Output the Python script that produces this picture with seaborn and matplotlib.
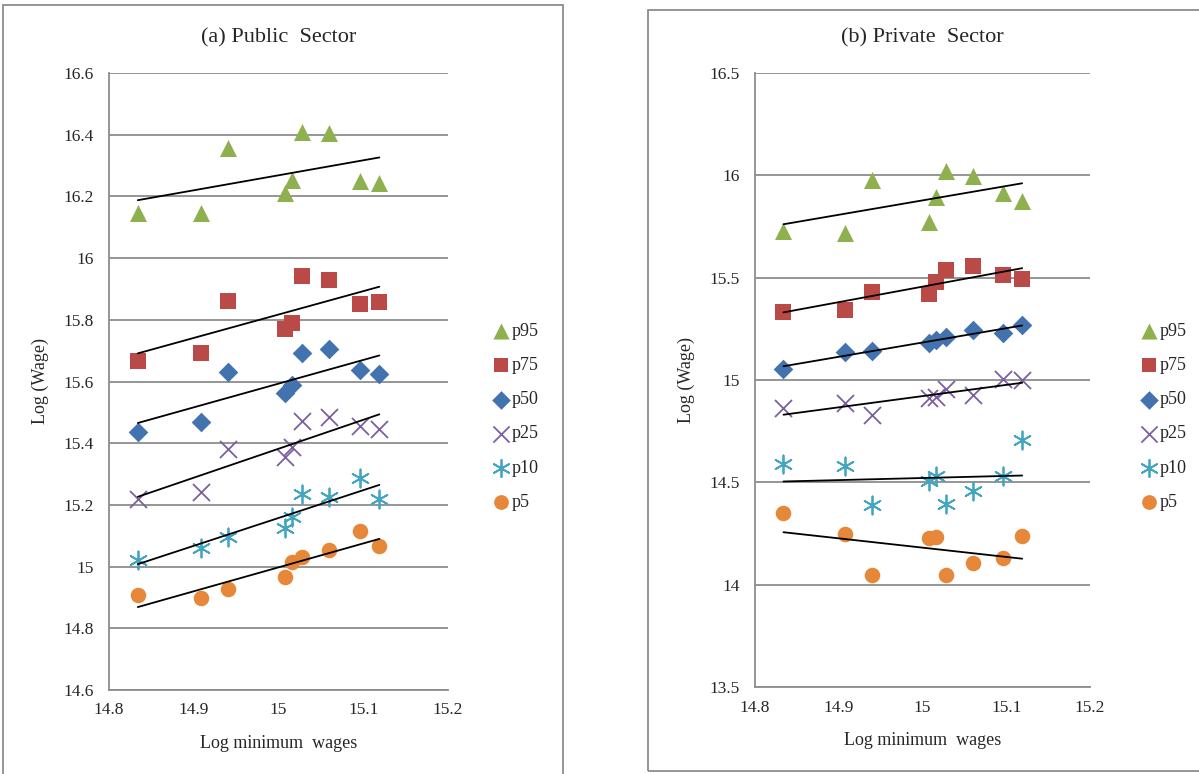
import matplotlib
matplotlib.use("Agg")
import matplotlib.pyplot as plt
import pandas as pd
import seaborn as sns
from matplotlib.patches import Rectangle

# log minimum wage (same for both sectors)
min_wage = [14.834, 14.908, 14.940, 15.008, 15.016, 15.028, 15.060, 15.096, 15.119]

percentiles = ["p95", "p75", "p50", "p25", "p10", "p5"]

public_p95 = [16.146, 16.146, 16.357, 16.211, 16.253, 16.409, 16.405, 16.250, 16.243]
public_p75 = [15.666, 15.692, 15.862, 15.769, 15.791, 15.943, 15.929, 15.851, 15.857]
public_p50 = [15.437, 15.468, 15.632, 15.562, 15.589, 15.691, 15.705, 15.637, 15.623]
public_p25 = [15.218, 15.243, 15.380, 15.356, 15.389, 15.472, 15.486, 15.456, 15.446]
public_p10 = [15.021, 15.059, 15.097, 15.124, 15.160, 15.234, 15.225, 15.288, 15.218]
public_p5 = [14.908, 14.897, 14.927, 14.967, 15.016, 15.032, 15.054, 15.116, 15.068]

private_p95 = [15.729, 15.717, 15.979, 15.774, 15.894, 16.020, 15.999, 15.916, 15.876]
private_p75 = [15.334, 15.342, 15.428, 15.420, 15.481, 15.539, 15.558, 15.515, 15.495]
private_p50 = [15.054, 15.136, 15.141, 15.180, 15.193, 15.209, 15.246, 15.229, 15.267]
private_p25 = [14.861, 14.890, 14.829, 14.911, 14.918, 14.956, 14.926, 15.005, 15.001]
private_p10 = [14.590, 14.582, 14.387, 14.508, 14.533, 14.395, 14.456, 14.533, 14.707]
private_p5 = [14.349, 14.246, 14.046, 14.227, 14.231, 14.049, 14.107, 14.130, 14.239]

public_ticks = [14.6, 14.8, 15, 15.2, 15.4, 15.6, 15.8, 16, 16.2, 16.4, 16.6]
private_ticks = [13.5, 14, 14.5, 15, 15.5, 16, 16.5]
x_ticks = [14.8, 14.9, 15, 15.1, 15.2]

colors = {"p95": "#8EB04F", "p75": "#BA4A47", "p50": "#4373AE",
          "p25": "#7C5F9F", "p10": "#43A5C0", "p5": "#E7873A"}
markers = {"p95": "^", "p75": "s", "p50": "D", "p25": "x", "p10": (6, 2, 0), "p5": "o"}
sizes = {"p95": 150, "p75": 120, "p50": 100, "p25": 150, "p10": 170, "p5": 125}


def long_frame(series):
    rows = []
    for name, vals in zip(percentiles, series):
        for x, y in zip(min_wage, vals):
            rows.append({"minw": x, "wage": y, "pct": name})
    return pd.DataFrame(rows)


public_df = long_frame([public_p95, public_p75, public_p50, public_p25, public_p10, public_p5])
private_df = long_frame([private_p95, private_p75, private_p50, private_p25, private_p10, private_p5])

sns.set_theme(style="white")
plt.rcParams["font.family"] = ["Liberation Serif", "DejaVu Serif"]
grey = "#8C8C8C"

W, H = 1199, 774
fig = plt.figure(figsize=(W / 100, H / 100), dpi=100)


def px_axes(x0, y0, x1, y1):
    return fig.add_axes([x0 / W, 1 - y1 / H, (x1 - x0) / W, (y1 - y0) / H])


def draw_panel(ax, df, title, yticks, legend_xy):
    for name in percentiles:
        sub = df[df["pct"] == name]
        line_art = name in ("p25", "p10")
        kw = dict(linewidth=1.3) if line_art else dict(linewidth=0)
        sns.scatterplot(data=sub, x="minw", y="wage", ax=ax, color=colors[name],
                        marker=markers[name], s=sizes[name], label=name, zorder=3, **kw)
    for name in percentiles:
        sub = df[df["pct"] == name]
        sns.regplot(data=sub, x="minw", y="wage", ax=ax, scatter=False, ci=None,
                    truncate=True, color="black", line_kws=dict(linewidth=1.3, zorder=4))
    ax.set_xlim(14.8, 15.2)
    ax.set_ylim(yticks[0], yticks[-1])
    ax.set_xticks(x_ticks)
    ax.set_xticklabels(["14.8", "14.9", "15", "15.1", "15.2"])
    ax.set_yticks(yticks)
    ax.set_yticklabels([f"{t:g}" for t in yticks])
    ax.yaxis.grid(True, color=grey, linewidth=1.3)
    ax.xaxis.grid(False)
    for side in ("top", "right"):
        ax.spines[side].set_visible(False)
    for side in ("left", "bottom"):
        ax.spines[side].set_color(grey)
        ax.spines[side].set_linewidth(1.3)
    ax.tick_params(axis="y", length=5, width=1.3, color=grey, direction="out",
                   pad=6, labelsize=12.5)
    ax.tick_params(axis="x", length=0, pad=9, labelsize=12.5)
    ax.set_title(title, fontsize=16, pad=22)
    ax.set_xlabel("Log minimum  wages", fontsize=13, labelpad=12)
    ax.set_ylabel("Log (Wage)", fontsize=13, labelpad=10)
    ax.legend_.remove()
    handles, labels = ax.get_legend_handles_labels()
    fig.legend(handles[:6], labels[:6], loc="upper left",
               bbox_to_anchor=(legend_xy[0] / W, 1 - legend_xy[1] / H),
               frameon=False, fontsize=13, handletextpad=0.0, handlelength=1.2,
               labelspacing=0.95, borderpad=0, markerscale=0.95)


ax1 = px_axes(109, 73, 448, 690)
ax2 = px_axes(755, 73, 1090, 687)
draw_panel(ax1, public_df, "(a) Public  Sector", public_ticks, (481, 314))
draw_panel(ax2, private_df, "(b) Private  Sector", private_ticks, (1129, 314))

# chart area frames
fig.patches.append(Rectangle((3 / W, -0.02), 560 / W, 1.02 - 5 / H,
                             transform=fig.transFigure, fill=False,
                             edgecolor=grey, linewidth=1.3))
fig.patches.append(Rectangle((648 / W, 1 - 771 / H), 560 / W, 761 / H,
                             transform=fig.transFigure, fill=False,
                             edgecolor=grey, linewidth=1.3))

fig.savefig("out.png", dpi=100)
